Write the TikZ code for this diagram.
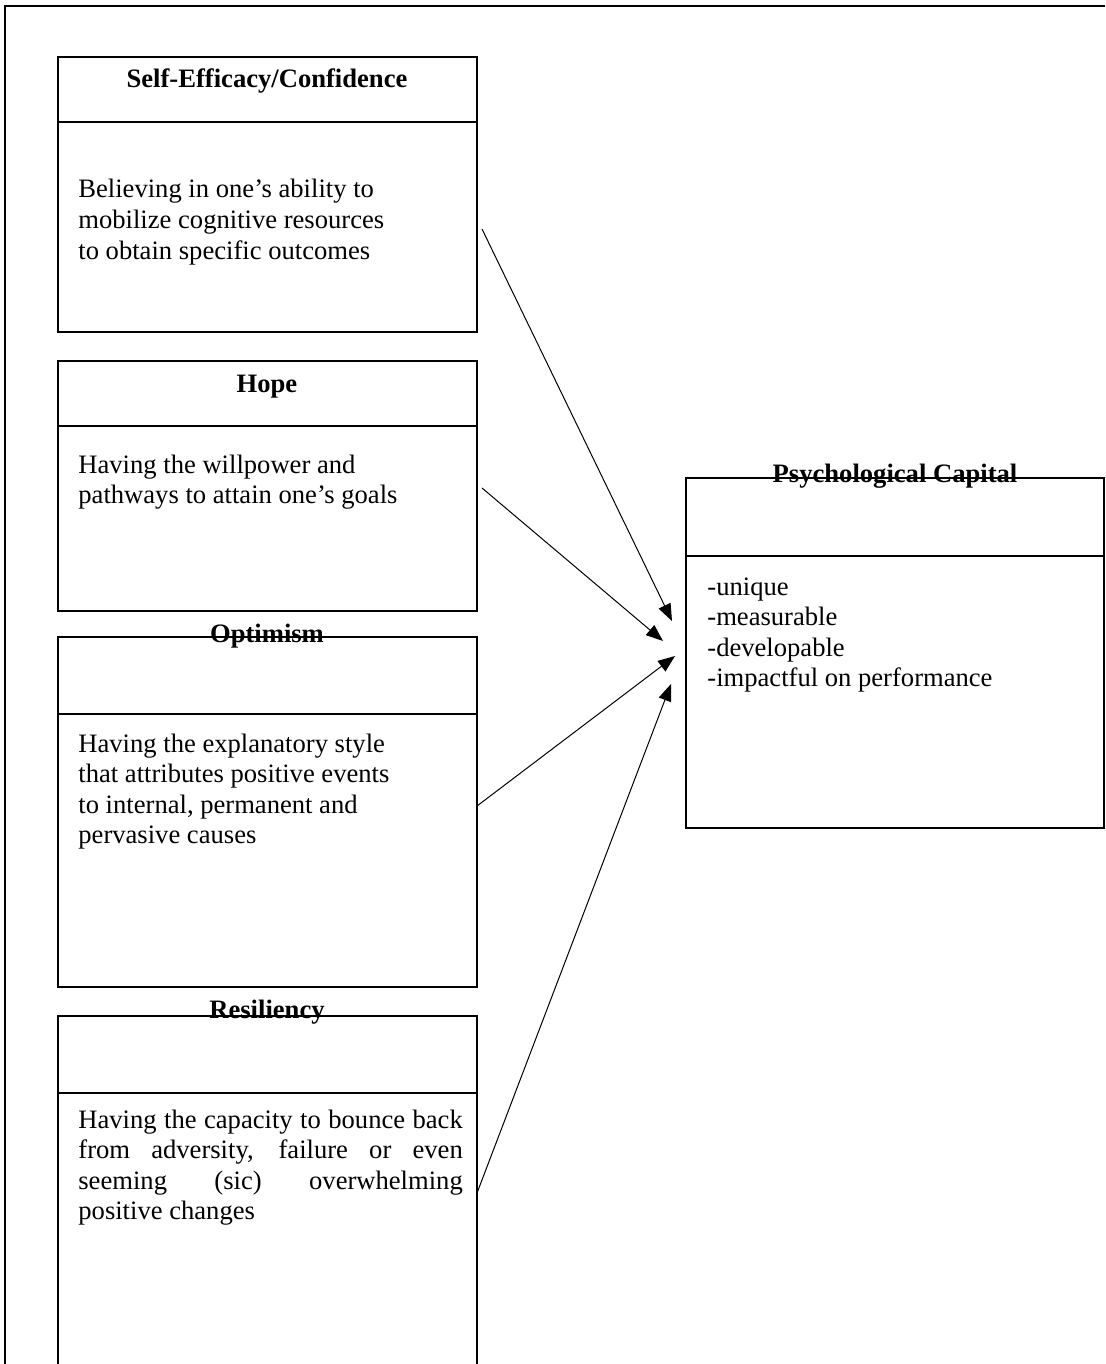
\documentclass[tikz,border=0pt]{standalone}
\usepackage{fontspec}
\setmainfont{Liberation Serif}
\usetikzlibrary{arrows.meta}
\newcommand{\capfont}{\fontsize{13.3}{15.3}\selectfont}
\tikzset{
	boxline/.style={line width=1pt},
	frameline/.style={line width=1.2pt},
	capline/.style={line width=0.5pt,-{Triangle[length=8.5pt,width=6.5pt]}},
	captitle/.style={anchor=base,inner sep=0pt,font=\capfont\bfseries},
	captext/.style={anchor=base west,inner sep=0pt,font=\capfont},
}
\begin{document}
\begin{tikzpicture}[x=0.5pt,y=-0.5pt]
		\clip (0,0) rectangle (1105,1364);
		\draw[frameline](5,1380)--(5,6)--(1120,6);
	
		\draw[boxline](58,57) rectangle (477,332);
		\draw[boxline](58,122)--(477,122);
		\node[captitle] (effT) at (267,88) {Self-Efficacy/Confidence};
		\node[captext] (effB) at (78,198) {\parbox[t]{200pt}{Believing in one’s ability to\\mobilize cognitive resources\\to obtain specific outcomes}};
	
		\draw[boxline](58,361) rectangle (477,611);
		\draw[boxline](58,426)--(477,426);
		\node[captitle] (hopeT) at (267,392) {Hope};
		\node[captext] (hopeB) at (78,473) {\parbox[t]{200pt}{Having the willpower and\\pathways to attain one’s goals}};
	
		\draw[boxline](58,637) rectangle (477,987);
		\draw[boxline](58,714)--(477,714);
		\node[captitle] (optT) at (267,642) {Optimism};
		\node[captext] (optB) at (78,752) {\parbox[t]{200pt}{Having the explanatory style\\that attributes positive events\\to internal, permanent and\\pervasive causes}};
	
		\draw[boxline](58,1016) rectangle (477,1400);
		\draw[boxline](58,1093)--(477,1093);
		\node[captitle] (resT) at (267,1018) {Resiliency};
		\node[captext] (resB) at (78,1128) {\parbox[t]{192.2pt}{\makebox[\linewidth][s]{Having the capacity to bounce back}\\\makebox[\linewidth][s]{from adversity, failure or even}\\\makebox[\linewidth][s]{seeming (sic) overwhelming}\\positive changes}};
	
		\draw[boxline](686,478) rectangle (1104,828);
		\draw[boxline](686,556)--(1104,556);
		\node[captitle] (psyT) at (895,482) {Psychological Capital};
		\node[captext] (psyB) at (707,595) {\parbox[t]{200pt}{-unique\\-measurable\\-developable\\-impactful on performance}};
	
		\coordinate (effS) at (482,229);
		\coordinate (hopeS) at (482,488);
		\coordinate (optS) at (477,806);
		\coordinate (resS) at (477,1193);
		\coordinate (psyE1) at (672,621);
		\coordinate (psyE2) at (663,641);
		\coordinate (psyE3) at (675,656);
		\coordinate (psyE4) at (671,684);
		\draw[capline](effS)--(psyE1);
		\draw[capline](hopeS)--(psyE2);
		\draw[capline](optS)--(psyE3);
		\draw[capline](resS)--(psyE4);
	
	\end{tikzpicture}
\end{document}
